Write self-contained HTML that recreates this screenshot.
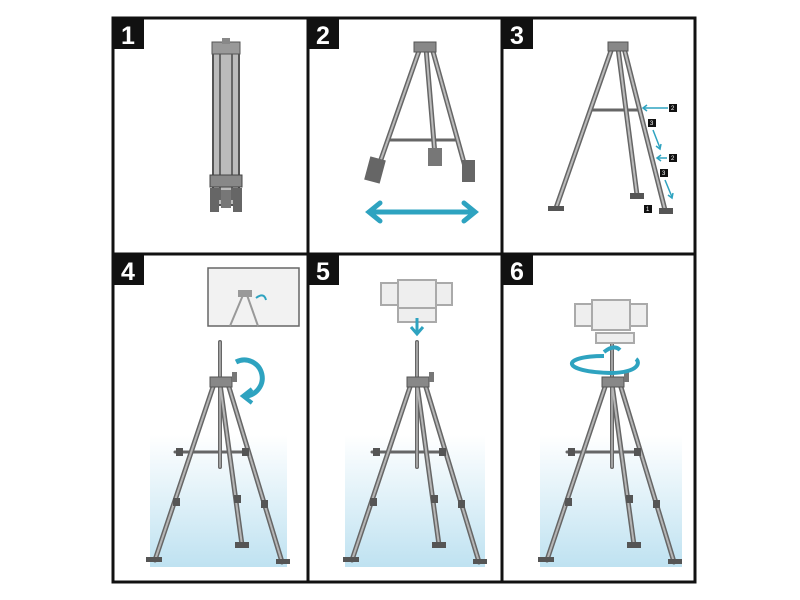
<!DOCTYPE html>
<html><head><style>
html,body{margin:0;padding:0;background:#fff;width:800px;height:600px;overflow:hidden}
svg{display:block}
.n{font-family:"Liberation Sans",sans-serif;font-weight:bold;font-size:25px;fill:#fff}
.s{font-family:"Liberation Sans",sans-serif;font-size:6px;fill:#fff}
</style></head><body>
<svg width="800" height="600" viewBox="0 0 800 600">
<defs>
<linearGradient id="g" x1="0" y1="0" x2="0" y2="1">
<stop offset="0" stop-color="#fff"/><stop offset="1" stop-color="#bfe2f1"/></linearGradient>
<g id="tri">
 <!-- apex at 0,0 -->
 <g stroke="#666" stroke-width="5" stroke-linecap="round" fill="none">
  <line x1="-6" y1="2" x2="-65" y2="178"/>
  <line x1="0" y1="2" x2="22" y2="163"/>
  <line x1="8" y1="2" x2="62" y2="180"/>
  <line x1="-45" y1="70" x2="25" y2="70" stroke-width="3"/>
  <line x1="0" y1="-40" x2="0" y2="85" stroke-width="4"/>
 </g>
 <g stroke="#b5b5b5" stroke-width="2" stroke-linecap="round" fill="none">
  <line x1="-6" y1="2" x2="-65" y2="178"/>
  <line x1="0" y1="2" x2="22" y2="163"/>
  <line x1="8" y1="2" x2="62" y2="180"/>
  <line x1="0" y1="-40" x2="0" y2="85" stroke-width="1.5"/>
 </g>
 <rect x="-10" y="-5" width="22" height="10" fill="#888" stroke="#555"/>
 <rect x="12" y="-10" width="5" height="10" fill="#777"/>
 <g fill="#555">
  <rect x="-44" y="66" width="7" height="8"/><rect x="22" y="66" width="7" height="8"/>
  <rect x="-47" y="116" width="7" height="8"/><rect x="14" y="113" width="7" height="8"/><rect x="41" y="118" width="7" height="8"/>
  <rect x="-74" y="175" width="16" height="5"/><rect x="15" y="160" width="14" height="6"/><rect x="56" y="177" width="14" height="5"/>
 </g>
</g>
</defs>
<!-- gradients -->
<rect x="150" y="435" width="137" height="132" fill="url(#g)"/>
<rect x="345" y="435" width="140" height="132" fill="url(#g)"/>
<rect x="540" y="435" width="142" height="132" fill="url(#g)"/>

<!-- panel 1 folded -->
<g>
 <rect x="213" y="45" width="26" height="160" fill="#bbb" stroke="#555" stroke-width="2"/>
 <line x1="220" y1="48" x2="220" y2="200" stroke="#666" stroke-width="2"/>
 <line x1="232" y1="48" x2="232" y2="200" stroke="#666" stroke-width="2"/>
 <rect x="212" y="42" width="28" height="12" fill="#999" stroke="#555"/>
 <rect x="222" y="38" width="8" height="6" fill="#888"/>
 <rect x="210" y="175" width="32" height="12" fill="#888" stroke="#444"/>
 <rect x="210" y="188" width="9" height="24" fill="#666"/><rect x="233" y="188" width="9" height="24" fill="#666"/>
 <rect x="221" y="190" width="10" height="18" fill="#777"/>
</g>
<!-- panel 2 -->
<g>
 <g stroke="#666" stroke-width="5" stroke-linecap="round">
  <line x1="420" y1="48" x2="378" y2="168"/><line x1="426" y1="48" x2="435" y2="155"/><line x1="432" y1="48" x2="466" y2="170"/>
  <line x1="390" y1="140" x2="455" y2="140" stroke-width="3"/>
 </g>
 <g stroke="#bbb" stroke-width="2"><line x1="420" y1="48" x2="378" y2="168"/><line x1="426" y1="48" x2="435" y2="155"/><line x1="432" y1="48" x2="466" y2="170"/></g>
 <rect x="414" y="42" width="22" height="10" fill="#888" stroke="#555"/>
 <rect x="367" y="158" width="16" height="24" fill="#666" transform="rotate(15 375 170)"/>
 <rect x="428" y="148" width="14" height="18" fill="#777"/>
 <rect x="462" y="160" width="13" height="22" fill="#666"/>
 <g stroke="#2ea3c0" stroke-width="5" fill="none" stroke-linecap="round">
  <line x1="370" y1="212" x2="474" y2="212"/>
  <polyline points="380,203 369,212 380,221"/><polyline points="464,203 475,212 464,221"/>
 </g>
</g>
<!-- panel 3 -->
<g>
 <g stroke="#666" stroke-width="5" stroke-linecap="round">
  <line x1="612" y1="48" x2="556" y2="208"/><line x1="618" y1="48" x2="637" y2="195"/><line x1="624" y1="48" x2="665" y2="210"/>
  <line x1="590" y1="110" x2="638" y2="110" stroke-width="3"/>
 </g>
 <g stroke="#bbb" stroke-width="2"><line x1="612" y1="48" x2="556" y2="208"/><line x1="618" y1="48" x2="637" y2="195"/><line x1="624" y1="48" x2="665" y2="210"/></g>
 <rect x="608" y="42" width="20" height="9" fill="#888" stroke="#555"/>
 <rect x="548" y="206" width="16" height="5" fill="#555"/><rect x="630" y="193" width="14" height="6" fill="#555"/><rect x="659" y="208" width="14" height="6" fill="#555"/>
 <g stroke="#2ea3c0" stroke-width="1.5" fill="none">
  <line x1="643" y1="108" x2="668" y2="108"/><polyline points="647,105 643,108 647,111"/>
  <line x1="653" y1="130" x2="660" y2="148"/><polyline points="656,146 660,149 661,144"/>
  <line x1="657" y1="158" x2="667" y2="158"/><polyline points="661,155 657,158 661,161"/>
  <line x1="665" y1="180" x2="672" y2="197"/><polyline points="668,195 672,198 673,193"/>
 </g>
 <g fill="#111">
  <rect x="669" y="104" width="8" height="8"/><rect x="648" y="119" width="8" height="8"/>
  <rect x="669" y="154" width="8" height="8"/><rect x="660" y="169" width="8" height="8"/><rect x="644" y="205" width="8" height="8"/>
 </g>
</g>
<!-- panel 4 -->
<use href="#tri" x="220" y="382"/>
<rect x="208" y="268" width="91" height="58" fill="#f2f2f2" stroke="#666" stroke-width="1.5"/>
<g stroke="#999" stroke-width="2"><line x1="243" y1="295" x2="230" y2="326"/><line x1="247" y1="295" x2="258" y2="326"/></g>
<rect x="238" y="290" width="14" height="7" fill="#999"/>
<path d="M256 298 q8 -6 10 2" stroke="#2ea3c0" stroke-width="2" fill="none"/>
<path d="M236 362 A 18 18 0 1 1 244 396" stroke="#2ea3c0" stroke-width="5" fill="none"/>
<polyline points="252,389 243,396 252,403" stroke="#2ea3c0" stroke-width="4" fill="none"/>
<!-- panel 5 -->
<use href="#tri" x="417" y="382"/>
<g fill="#eee" stroke="#aaa" stroke-width="2">
 <rect x="381" y="283" width="20" height="22"/><rect x="432" y="283" width="20" height="22"/>
 <rect x="398" y="280" width="38" height="30"/><rect x="398" y="308" width="38" height="14"/>
</g>
<line x1="417" y1="318" x2="417" y2="332" stroke="#2ea3c0" stroke-width="3"/>
<polyline points="411,327 417,334 423,327" stroke="#2ea3c0" stroke-width="3" fill="none"/>
<!-- panel 6 -->
<use href="#tri" x="612" y="382"/>
<g fill="#eee" stroke="#aaa" stroke-width="2">
 <rect x="575" y="304" width="20" height="22"/><rect x="627" y="304" width="20" height="22"/>
 <rect x="592" y="300" width="38" height="30"/><rect x="596" y="333" width="38" height="10"/>
</g>
<path d="M604 356 C 560 356 560 372 612 373 C 640 372 640 362 636 359" stroke="#2ea3c0" stroke-width="4" fill="none"/>
<path d="M604 352 q10 -8 16 -2" stroke="#2ea3c0" stroke-width="4" fill="none"/>
<!-- grid -->
<g stroke="#111" stroke-width="3" fill="none">
 <rect x="113" y="18" width="582" height="564"/>
 <line x1="308" y1="18" x2="308" y2="582"/><line x1="502" y1="18" x2="502" y2="582"/>
 <line x1="113" y1="254" x2="695" y2="254"/>
</g>
<g fill="#111">
 <rect x="113" y="18" width="31" height="31"/><rect x="308" y="18" width="31" height="31"/><rect x="502" y="18" width="31" height="31"/>
 <rect x="113" y="254" width="31" height="31"/><rect x="308" y="254" width="31" height="31"/><rect x="502" y="254" width="31" height="31"/>
</g>
<text class="n" x="121" y="44">1</text><text class="n" x="316" y="44">2</text><text class="n" x="510" y="44">3</text>
<text class="n" x="121" y="280">4</text><text class="n" x="316" y="280">5</text><text class="n" x="510" y="280">6</text>
<text class="s" x="671" y="110">2</text><text class="s" x="650" y="125">3</text><text class="s" x="671" y="160">2</text><text class="s" x="662" y="175">3</text><text class="s" x="646" y="211">1</text>
</svg>
</body></html>
